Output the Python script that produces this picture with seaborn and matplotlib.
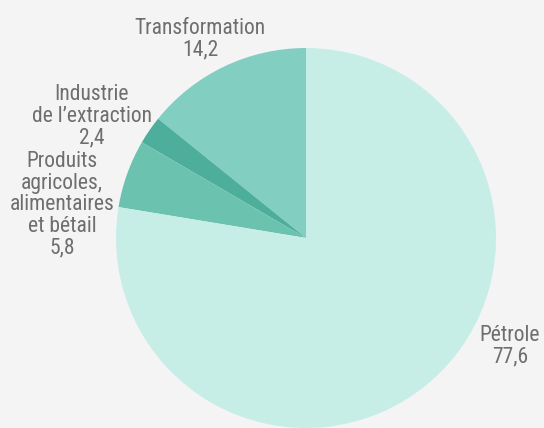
import matplotlib
matplotlib.use("Agg")
import matplotlib.pyplot as plt
import seaborn as sns

# Breakdown by sector (%)
sectors = ["Transformation", "Industrie\nde l\u2019extraction",
           "Produits\nagricoles,\nalimentaires\net bétail", "Pétrole"]
shares = [14.2, 2.4, 5.8, 77.6]
value_labels = ["14,2", "2,4", "5,8", "77,6"]

sns.set_theme(style="white")
plt.rcParams["font.family"] = ["Roboto Condensed", "Archivo Narrow",
                               "Roboto", "DejaVu Sans"]

palette = sns.color_palette(["#82cfc1", "#4daf9b", "#6bc2af", "#c6eee7"])
bg = "#f4f4f4"
text_color = "#6e6e6e"

W, H = 544, 428
fig = plt.figure(figsize=(W / 100, H / 100), dpi=100, facecolor=bg)
ax = fig.add_axes([0, 0, 1, 1])
ax.set_facecolor(bg)

ax.pie(shares, colors=palette, startangle=90, counterclock=True,
       center=(306, H - 238), radius=190,
       wedgeprops=dict(linewidth=0, antialiased=True))

# pie() resets the view, so fix the pixel-sized canvas afterwards
ax.set_xlim(0, W)
ax.set_ylim(0, H)
ax.set_aspect("equal")
ax.axis("off")

# label anchors: centre x, baseline of the last line (from top)
label_pos = [(200, 55), (92, 143), (62, 253), (510, 362)]
for name, val, (x, y) in zip(sectors, value_labels, label_pos):
    ax.text(x, H - y, f"{name}\n{val}", ha="center", va="baseline",
            multialignment="center", fontsize=15.5, color=text_color,
            linespacing=1.03)

fig.savefig("out.png", dpi=100, facecolor=bg)
